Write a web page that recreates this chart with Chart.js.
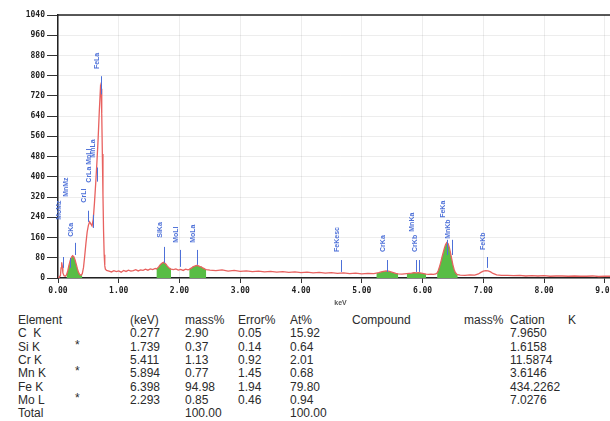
<!DOCTYPE html>
<html>
<head>
<meta charset="utf-8">
<script src="https://cdn.jsdelivr.net/npm/chart.js@4.4.0/dist/chart.umd.min.js"></script>
<style>
    html, body { margin: 0; padding: 0; background: #fff; overflow: hidden; }
    #wrap { position: relative; width: 610px; height: 421px; overflow: hidden; }
    #plot { position: absolute; left: 0; top: 0; width: 650px; height: 310px; }
    .cell {
        position: absolute;
        font: 12px "Liberation Sans", Arial, sans-serif;
        color: #2b2b2b;
        white-space: pre;
        line-height: 12px;
    }
</style>
</head>
<body>
<div id="wrap">
    <div id="plot"><canvas id="espectro"></canvas></div>
</div>
<script>
// spectrum (keV / counts)
const energy = [
    0.00, 0.02, 0.04, 0.05, 0.06, 0.07, 0.08, 0.10, 0.12, 0.14, 0.16, 0.18, 0.20, 0.22, 0.24, 0.26,
    0.28, 0.30, 0.32, 0.34, 0.36, 0.38, 0.40, 0.42, 0.44, 0.46, 0.48, 0.50, 0.52, 0.54, 0.56, 0.58,
    0.60, 0.62, 0.64, 0.66, 0.68, 0.70, 0.71, 0.72, 0.73, 0.74, 0.75, 0.76, 0.77, 0.78, 0.80,
    0.84, 0.88, 0.92, 0.96, 1.00, 1.04, 1.08, 1.12, 1.16, 1.20, 1.24, 1.28, 1.32, 1.36, 1.40, 1.44,
    1.48, 1.52, 1.56, 1.60,
    1.62, 1.64, 1.66, 1.68, 1.70, 1.72, 1.74, 1.76, 1.78, 1.80, 1.82, 1.84, 1.86,
    1.90, 1.94, 1.98, 2.02, 2.06, 2.10, 2.14,
    2.16, 2.18, 2.20, 2.22, 2.24, 2.26, 2.28, 2.30, 2.32, 2.34, 2.36, 2.38, 2.40, 2.42, 2.44,
    2.50, 2.60, 2.70, 2.80, 2.90, 3.00, 3.10, 3.20, 3.30, 3.40, 3.50, 3.60, 3.70, 3.80, 3.90, 4.00,
    4.10, 4.20, 4.30, 4.40, 4.50, 4.60, 4.70, 4.80, 4.90, 5.00, 5.10, 5.20,
    5.24, 5.28, 5.32, 5.36, 5.40, 5.44, 5.48, 5.52, 5.56, 5.60, 5.66, 5.70,
    5.74, 5.78, 5.82, 5.86, 5.90, 5.94, 5.98, 6.02, 6.06, 6.10, 6.14, 6.18, 6.22,
    6.24, 6.26, 6.28, 6.30, 6.32, 6.34, 6.36, 6.38, 6.40, 6.42, 6.44, 6.46, 6.48, 6.50, 6.52, 6.54,
    6.56, 6.58,
    6.62, 6.70, 6.78, 6.86, 6.92, 6.96, 7.00, 7.04, 7.08, 7.12, 7.16, 7.22, 7.30,
    7.40, 7.50, 7.60, 7.70, 7.80, 7.90, 8.00, 8.10, 8.20, 8.30, 8.40, 8.50, 8.60, 8.70, 8.80, 8.90,
    9.00, 9.10, 9.20, 9.30
];
const counts = [
    0, 3, 10, 40, 62, 48, 20, 9, 7, 12, 28, 50, 68, 82, 88, 84,
    72, 55, 36, 21, 13, 11, 17, 42, 88, 138, 182, 208, 222, 214, 206, 232,
    296, 372, 455, 548, 660, 758, 748, 650, 490, 330, 185, 92, 48, 35, 30,
    27, 24, 29, 25, 28, 23, 30, 26, 31, 27, 29, 33, 28, 32, 30, 35,
    31, 36, 33, 38,
    36, 40, 45, 52, 56, 60, 62, 58, 54, 47, 42, 38, 35,
    33, 36, 31, 34, 30, 35, 32,
    34, 37, 40, 44, 46, 48, 50, 49, 47, 45, 44, 40, 38, 35, 33,
    31, 29, 32, 27, 30, 26, 28, 25, 27, 24, 26, 23, 25, 22, 24, 21,
    23, 20, 22, 19, 21, 18, 20, 17, 19, 16, 18, 17,
    19, 21, 24, 26, 28, 27, 24, 21, 18, 16, 15, 16,
    17, 18, 19, 21, 20, 21, 19, 17, 15, 14, 15, 14, 16,
    20, 30, 45, 62, 82, 100, 118, 132, 140, 136, 122, 100, 76, 52, 34, 22,
    16, 13,
    11, 10, 12, 11, 16, 22, 27, 29, 28, 24, 18, 12, 10,
    10, 9, 10, 8, 9, 8, 9, 7, 8, 8, 7, 8, 7, 7, 8, 6,
    7, 7, 6, 6
];

// identified peaks (green areas), keV ranges
const peakWindows = [[0.14, 0.40], [1.62, 1.86], [2.16, 2.44], [5.24, 5.60], [5.74, 6.06], [6.24, 6.58]];

// line markers
const markerNames   = ["MoMz", "MnMz", "CKa", "CrLl", "CrLa MnLl", "MnLa", "FeLa", "SiKa", "MoLl", "MoLa",
                       "FeKesc", "CrKa", "MnKa", "CrKb", "FeKa", "MnKb", "FeKb"];
const markerEnergy  = [0.08, 0.19, 0.277, 0.50, 0.573, 0.637, 0.705, 1.739, 2.016, 2.293,
                       4.66, 5.411, 5.894, 5.946, 6.398, 6.49, 7.057];
const markerLow     = [40, 40, 91, 222, 198, 381, 726, 60, 44, 52, 24, 24, 24, 24, 91, 91, 40];
const markerHigh    = [83, 79, 139, 266, 250, 437, 798, 123, 111, 111, 71, 71, 71, 71, 151, 151, 83];
const markerLabelAt = [230, 321, 163, 298, 377, 476, 826, 159, 139, 139, 103, 103, 183, 103, 238, 155, 111];

const yTicks = [0, 80, 160, 240, 320, 400, 480, 560, 640, 720, 800, 880, 960, 1040];
const xTicks = [0, 1, 2, 3, 4, 5, 6, 7, 8, 9];

// quantification table
const tableHead = ["Element", "(keV)", "mass%", "Error%", "At%", "Compound", "mass%", "Cation", "K"];
const elements  = ["C  K", "Si K", "Cr K", "Mn K", "Fe K", "Mo L"];
const flagged   = [false, true, false, true, false, true];
const lineKeV   = ["0.277", "1.739", "5.411", "5.894", "6.398", "2.293"];
const massPct   = ["2.90", "0.37", "1.13", "0.77", "94.98", "0.85"];
const errorPct  = ["0.05", "0.14", "0.92", "1.45", "1.94", "0.46"];
const atPct     = ["15.92", "0.64", "2.01", "0.68", "79.80", "0.94"];
const cation    = ["7.9650", "1.6158", "11.5874", "3.6146", "434.2262", "7.0276"];
const totalMass = "100.00";
const totalAt   = "100.00";

const spectrum = energy.map((e, i) => ({ x: e, y: counts[i] }));

const red = "#e8615f";
const green = "#58bd45";
const blue = "#4d70d8";
const tickFont = { family: "DejaVu Sans Mono", size: 8, weight: "bold" };

const datasets = [{
    data: spectrum,
    borderColor: red,
    borderWidth: 1.3,
    pointRadius: 0,
    fill: false,
    tension: 0,
    order: 0
}];
peakWindows.forEach(w => {
    datasets.push({
        data: spectrum.filter(p => p.x >= w[0] && p.x <= w[1]),
        borderWidth: 0,
        borderColor: green,
        backgroundColor: green,
        pointRadius: 0,
        fill: "origin",
        tension: 0,
        order: 1
    });
});

const marcadores = {
    id: "marcadores",
    afterDatasetsDraw(chart) {
        const { ctx, chartArea, scales } = chart;
        const x = scales.x, y = scales.y;
        ctx.save();
        // top frame line
        ctx.strokeStyle = "#222";
        ctx.lineWidth = 1.5;
        ctx.beginPath();
        ctx.moveTo(chartArea.left, chartArea.top);
        ctx.lineTo(chartArea.right, chartArea.top);
        ctx.stroke();

        ctx.strokeStyle = blue;
        ctx.fillStyle = blue;
        ctx.lineWidth = 1;
        ctx.font = "bold 7px 'Liberation Sans'";
        ctx.textAlign = "left";
        ctx.textBaseline = "middle";
        markerNames.forEach((name, i) => {
            const px = Math.round(x.getPixelForValue(markerEnergy[i])) + 0.5;
            ctx.beginPath();
            ctx.moveTo(px, y.getPixelForValue(markerLow[i]));
            ctx.lineTo(px, y.getPixelForValue(markerHigh[i]));
            ctx.stroke();
            ctx.save();
            ctx.translate(px - 4, y.getPixelForValue(markerLabelAt[i]));
            ctx.rotate(-Math.PI / 2);
            ctx.fillText(name, 0, 0);
            ctx.restore();
        });
        ctx.restore();
    }
};

new Chart(document.getElementById("espectro"), {
    type: "line",
    data: { datasets },
    plugins: [marcadores],
    options: {
        responsive: true,
        maintainAspectRatio: false,
        animation: false,
        devicePixelRatio: 1,
        layout: { padding: { top: 15, left: 0, right: 27, bottom: 0 } },
        plugins: {
            legend: { display: false },
            tooltip: { enabled: false }
        },
        scales: {
            x: {
                type: "linear",
                min: 0,
                max: 9.3,
                afterBuildTicks: s => { s.ticks = xTicks.map(v => ({ value: v })); },
                afterFit: s => { s.height = 32; },
                ticks: {
                    callback: v => Number(v).toFixed(2),
                    autoSkip: false,
                    maxRotation: 0,
                    color: "#222",
                    font: tickFont,
                    padding: 3
                },
                grid: { color: "rgba(0,0,0,0.07)", tickColor: "#333", tickLength: 5 },
                border: { color: "#222", width: 1.5 },
                title: {
                    display: true,
                    text: "keV",
                    color: "#555",
                    font: { size: 7, family: "Liberation Sans", weight: "bold" },
                    padding: { top: 0, bottom: 3 }
                }
            },
            y: {
                min: 0,
                max: 1040,
                afterBuildTicks: s => { s.ticks = yTicks.map(v => ({ value: v })); },
                afterFit: s => { s.width = 58; },
                ticks: { callback: v => String(v), color: "#222", font: tickFont, padding: 2 },
                grid: { color: "rgba(0,0,0,0.07)", tickColor: "#333", tickLength: 11 },
                border: { color: "#222", width: 1.5 }
            }
        }
    }
});

// table under the plot
const colX = [18, 130, 185, 238, 290, 352, 464, 510, 568];
const rowTop = 314;
const rowStep = 13.3;
const wrap = document.getElementById("wrap");
function cell(text, left, top) {
    const d = document.createElement("div");
    d.className = "cell";
    d.textContent = text;
    d.style.left = left + "px";
    d.style.top = top + "px";
    wrap.appendChild(d);
}
tableHead.forEach((h, i) => cell(h, colX[i], rowTop));
elements.forEach((el, r) => {
    const top = rowTop + rowStep * (r + 1);
    cell(el, colX[0], top);
    if (flagged[r]) cell("*", 75, top - 2);
    cell(lineKeV[r], colX[1], top);
    cell(massPct[r], colX[2], top);
    cell(errorPct[r], colX[3], top);
    cell(atPct[r], colX[4], top);
    cell(cation[r], colX[7], top);
});
const totalTop = rowTop + rowStep * 7;
cell("Total", colX[0], totalTop);
cell(totalMass, colX[2], totalTop);
cell(totalAt, colX[4], totalTop);
</script>
</body>
</html>
